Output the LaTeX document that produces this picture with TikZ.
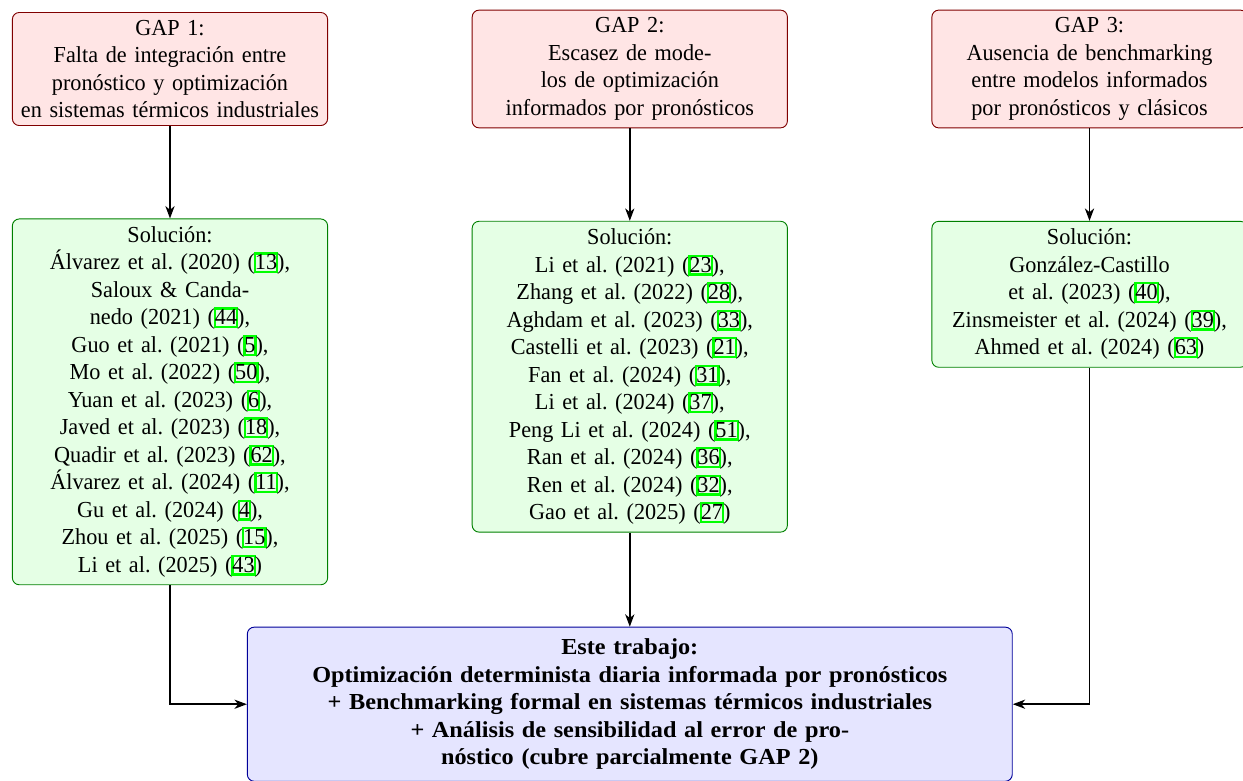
\documentclass[tikz,border=0pt]{standalone}
\usepackage{fontspec}
\setmainfont{Liberation Serif}[UprightFeatures={FakeStretch=0.97}, BoldFeatures={FakeStretch=1.06}]
\usetikzlibrary{arrows.meta,positioning,calc}
\definecolor{citeg}{rgb}{0,1,0}
\frenchspacing
\hyphenpenalty=10000
\exhyphenpenalty=10000
\newcommand\cit[1]{\leavevmode\rlap{\hspace{-0.5pt}\textcolor{citeg}{\setlength\fboxrule{1pt}\setlength\fboxsep{-0.5pt}\fbox{\phantom{#1}\rule[-1pt]{0pt}{8.2pt}}}}#1}
\begin{document}
\begin{tikzpicture}[x=0.4367pt,y=-0.4367pt,
  box/.style={rounded corners=3pt, align=center, text width=131pt, inner sep=3.33pt, line width=0.4pt},
  gapbox/.style={box, draw=red!50!black, fill=red!10},
  solbox/.style={box, draw=green!50!black, fill=green!10},
  mainbox/.style={box, draw=blue!60!black, fill=blue!10, text width=327.4pt, minimum height=67.3pt, font=\bfseries},
  conn/.style={line width=0.7pt, -{Stealth[length=5.4pt,width=4pt,inset=1.6pt]}}]
\useasboundingbox (0,0) rectangle (1243,780);

\node[gapbox] (g1) at (170,69) {GAP 1:\\Falta de integración entre\\pronóstico y optimización\\en sistemas térmicos industriales};
\node[gapbox] (g2) at (629.8,69) {GAP 2:\\Escasez de mode-\\los de optimización\\informados por pronósticos};
\node[gapbox] (g3) at (1089.5,69) {GAP 3:\\Ausencia de benchmarking\\entre modelos informados\\por pronósticos y clásicos};

\node[solbox, anchor=north] (s1) at ($(g1.south)+(0,92.5)$) {Solución:\\
Álvarez et al. (2020) (\cit{13}),\\
Saloux \& Canda-\\
nedo (2021) (\cit{44}),\\
Guo et al. (2021) (\cit{5}),\\
Mo et al. (2022) (\cit{50}),\\
Yuan et al. (2023) (\cit{6}),\\
Javed et al. (2023) (\cit{18}),\\
Quadir et al. (2023) (\cit{62}),\\
Álvarez et al. (2024) (\cit{11}),\\
Gu et al. (2024) (\cit{4}),\\
Zhou et al. (2025) (\cit{15}),\\
Li et al. (2025) (\cit{43})};

\node[solbox, anchor=north] (s2) at ($(g2.south)+(0,92.5)$) {Solución:\\
Li et al. (2021) (\cit{23}),\\
Zhang et al. (2022) (\cit{28}),\\
Aghdam et al. (2023) (\cit{33}),\\
Castelli et al. (2023) (\cit{21}),\\
Fan et al. (2024) (\cit{31}),\\
Li et al. (2024) (\cit{37}),\\
Peng Li et al. (2024) (\cit{51}),\\
Ran et al. (2024) (\cit{36}),\\
Ren et al. (2024) (\cit{32}),\\
Gao et al. (2025) (\cit{27})};

\node[solbox, anchor=north] (s3) at ($(g3.south)+(0,92.5)$) {Solución:\\
González-Castillo\\
et al. (2023) (\cit{40}),\\
Zinsmeister et al. (2024) (\cit{39}),\\
Ahmed et al. (2024) (\cit{63})};

\node[mainbox, anchor=north] (m) at (629.8,626.7) {Este trabajo:\\
Optimización determinista diaria informada por pronósticos\\
+ Benchmarking formal en sistemas térmicos industriales\\
+ Análisis de sensibilidad al error de pro-\\
nóstico (cubre parcialmente GAP 2)};

\draw[conn] (g1.south) -- (s1.north);
\draw[conn] (g2.south) -- (s2.north);
\draw[conn] (g3.south) -- (s3.north);
\draw[conn] (s1.south) |- (m.west);
\draw[conn] (s2.south) -- (s2.south |- m.north);
\draw[conn] (s3.south) |- (m.east);
\end{tikzpicture}
\end{document}
